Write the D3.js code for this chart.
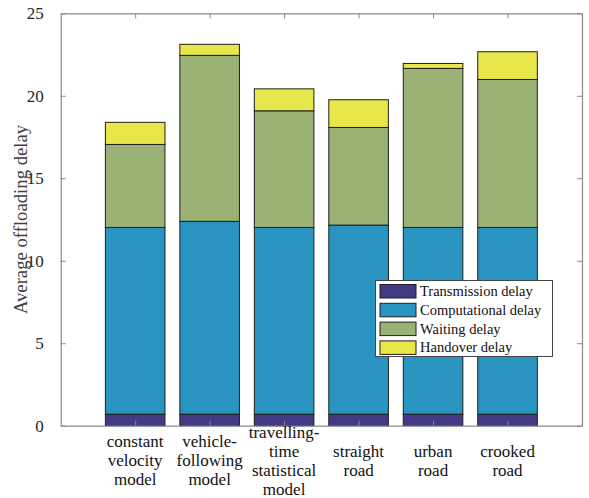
<!DOCTYPE html>
<html>
<head>
<meta charset="utf-8">
<script src="https://cdn.jsdelivr.net/npm/d3@7"></script>
<style>
  html, body { margin: 0; padding: 0; background: #fff; }
  svg { display: block; }
</style>
</head>
<body>
<svg id="chart" width="589" height="498"></svg>
<script>
const categories = [
  ["constant", "velocity", "model"],
  ["vehicle-", "following", "model"],
  ["travelling-", "time", "statistical", "model"],
  ["straight", "road"],
  ["urban", "road"],
  ["crooked", "road"]
];
const seriesNames = ["Transmission delay", "Computational delay", "Waiting delay", "Handover delay"];
const transmission = [0.7, 0.7, 0.7, 0.7, 0.7, 0.7];
const computational = [11.32, 11.69, 11.32, 11.46, 11.32, 11.32];
const waiting = [5.03, 10.06, 7.07, 5.92, 9.64, 8.97];
const handover = [1.34, 0.67, 1.33, 1.68, 0.30, 1.68];
const yTicks = [0, 5, 10, 15, 20, 25];
const colors = ["#433A86", "#2994BF", "#9AB275", "#E7E64B"];

const FONT = "'Liberation Serif', Tinos, 'Times New Roman', Times, 'DejaVu Serif', serif";
const svg = d3.select("#chart").attr("font-family", FONT);
const mLeft = 60.7, mRight = 582, mTop = 13.3, mBottom = 425.7;

const x = d3.scaleLinear().domain([0, 7]).range([mLeft, mRight]);
const y = d3.scaleLinear().domain([0, 25]).range([mBottom, mTop]);
const barW = x(0.8) - x(0);

const rows = categories.map((c, i) => ({
  i: i + 1,
  t: transmission[i], c: computational[i], w: waiting[i], h: handover[i]
}));
const keys = ["t", "c", "w", "h"];
const stacked = d3.stack().keys(keys)(rows);

// bars
stacked.forEach((layer, k) => {
  svg.append("g").selectAll("rect").data(layer).join("rect")
    .attr("x", d => x(d.data.i) - barW / 2)
    .attr("width", barW)
    .attr("y", d => y(d[1]))
    .attr("height", d => y(d[0]) - y(d[1]))
    .attr("fill", colors[k])
    .attr("stroke", "#1e1e1e")
    .attr("stroke-width", 1);
});

// axes (box)
const axColor = "#8a8a8a";
const xTickVals = d3.range(1, 7);
const gl = svg.append("g").attr("transform", `translate(${mLeft},0)`)
  .call(d3.axisLeft(y).tickValues(yTicks).tickSize(-5).tickSizeOuter(0).tickPadding(17).tickFormat(d3.format("d")));
const gr = svg.append("g").attr("transform", `translate(${mRight},0)`)
  .call(d3.axisRight(y).tickValues(yTicks).tickSize(-5).tickSizeOuter(0).tickFormat(""));
const gb = svg.append("g").attr("transform", `translate(0,${mBottom})`)
  .call(d3.axisBottom(x).tickValues(xTickVals).tickSize(-5).tickSizeOuter(0).tickFormat(""));
const gt = svg.append("g").attr("transform", `translate(0,${mTop})`)
  .call(d3.axisTop(x).tickValues(xTickVals).tickSize(-5).tickSizeOuter(0).tickFormat(""));
[gl, gr, gb, gt].forEach(g => {
  g.attr("font-family", FONT).attr("font-size", 17);
  g.select(".domain").attr("stroke", axColor).attr("stroke-width", 1.2);
  g.selectAll(".tick line").attr("stroke", axColor);
  g.selectAll(".tick text").attr("fill", "#262626").attr("font-family", FONT).attr("font-size", 17);
});

// category labels
const lineH = 19;
const midBaseline = 466;
categories.forEach((lines, i) => {
  const t = svg.append("text")
    .attr("text-anchor", "middle")
    .attr("fill", "#111")
    .attr("font-family", FONT)
    .attr("font-size", 17);
  const first = midBaseline - (lines.length - 1) / 2 * lineH;
  lines.forEach((ln, j) => {
    t.append("tspan").attr("x", x(i + 1)).attr("y", first + j * lineH).text(ln);
  });
});

// y label
svg.append("text")
  .attr("transform", `translate(27,${(mTop + mBottom) / 2}) rotate(-90)`)
  .attr("text-anchor", "middle")
  .attr("fill", "#404040")
  .attr("font-family", FONT)
  .attr("font-size", 18.7)
  .text("Average offloading delay");

// legend
const lg = svg.append("g");
lg.append("rect").attr("x", 375.5).attr("y", 280.5).attr("width", 177).attr("height", 76)
  .attr("fill", "#fff").attr("stroke", "#444").attr("stroke-width", 1);
seriesNames.forEach((name, k) => {
  const cy = 291 + k * 18.8;
  lg.append("rect").attr("x", 380).attr("y", cy - 6.5).attr("width", 36).attr("height", 13.5)
    .attr("fill", colors[k]).attr("stroke", "#1e1e1e").attr("stroke-width", 1);
  lg.append("text").attr("x", 420).attr("y", cy + 5).attr("fill", "#111")
    .attr("font-family", FONT).attr("font-size", 14.5).text(name);
});
</script>
</body>
</html>
